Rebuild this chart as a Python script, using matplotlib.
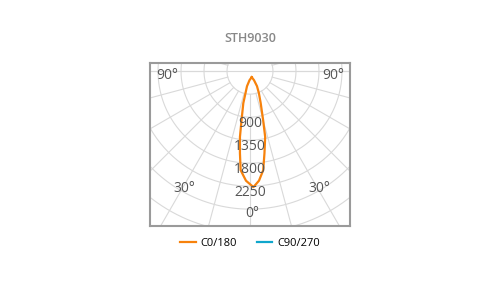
import numpy as np
import matplotlib
matplotlib.use('Agg')
import matplotlib.pyplot as plt

# Intensity curve (cd), as (angle from nadir in deg, intensity)
c0_angles = [16, 24, 25, 22, 18.5, 15, 13, 10, 7.6, 4.7, 1.7,
             -2.1, -5.4, -7, -8.7, -9.8, -11.8, -11.6, -11.3, -3, 16]
c0_values = [122, 193, 324, 465, 660, 994, 1320, 1630, 1955, 2150, 2270,
             2145, 1946, 1616, 1300, 973, 640, 440, 300, 176, 122]
c90_angles = []
c90_values = []

ring_values = [450, 900, 1350, 1800, 2250, 2700, 3150, 3600, 4050]
ring_labels = [900, 1350, 1800, 2250]
spoke_angles = np.arange(0, 360, 15)

title = 'STH9030'
FONT = 'Open Sans'
GRID = '#d9d9d9'
TXT = '#555555'


def to_xy(angles, values):
    a = np.radians(np.asarray(angles, dtype=float))
    r = np.asarray(values, dtype=float)
    return r * np.sin(a), -r * np.cos(a)


fig = plt.figure(figsize=(5, 3), dpi=100)
ax = fig.add_axes([150 / 500, 74 / 300, 200 / 500, 163 / 300])
ax.set_xlim(-1957, 1957)
ax.set_ylim(-3030, 160)
ax.set_xticks([])
ax.set_yticks([])
for s in ax.spines.values():
    s.set_color('#9a9a9a')
    s.set_linewidth(1.5)

# polar grid
t = np.linspace(0, 2 * np.pi, 361)
for rv in ring_values:
    ax.plot(rv * np.sin(t), rv * np.cos(t), color=GRID, lw=0.8, zorder=1)
for a in spoke_angles:
    x, y = to_xy([a, a], [ring_values[0], 6000])
    ax.plot(x, y, color=GRID, lw=0.8, zorder=1)
ax.plot([-6000, 6000], [0, 0], color=GRID, lw=0.8, zorder=1)

# series
x, y = to_xy(c90_angles, c90_values)
ax.plot(x, y, color='#0fa6cc', lw=1.6, label='C90/270', zorder=3)
x, y = to_xy(c0_angles, c0_values)
ax.plot(x, y, color='#f7820c', lw=1.6, label='C0/180', zorder=4,
        solid_joinstyle='round')

# radial labels
for rv in ring_labels:
    ax.text(0, -rv - 120, str(rv), ha='center', va='center', fontsize=10,
            color=TXT, family=FONT, zorder=5)

# angle labels
for a, rr in [(30, 2650), (-30, 2650), (0, 2780)]:
    lx, ly = to_xy([a], [rr])
    ax.text(lx[0] + 40, ly[0], f'{abs(a)}°', ha='center', va='center', fontsize=10,
            color=TXT, family=FONT, zorder=5)
for side in (-1, 1):
    ax.text(side * 1620, -80, '90°', ha='center', va='center', fontsize=10,
            color=TXT, family=FONT, zorder=5)

fig.text(0.5, 1 - 38 / 300, title, ha='center', va='center', fontsize=9,
         color='#888888', family=FONT, fontweight='semibold')

handles, labels = ax.get_legend_handles_labels()
order = [labels.index('C0/180'), labels.index('C90/270')]
fig.legend([handles[i] for i in order], [labels[i] for i in order],
           loc='center', bbox_to_anchor=(0.5, 1 - 243 / 300), ncol=2,
           frameon=False, handlelength=1.4, columnspacing=1.8,
           handletextpad=0.4, prop={'family': FONT, 'size': 8})

fig.savefig('out.png', dpi=100)
